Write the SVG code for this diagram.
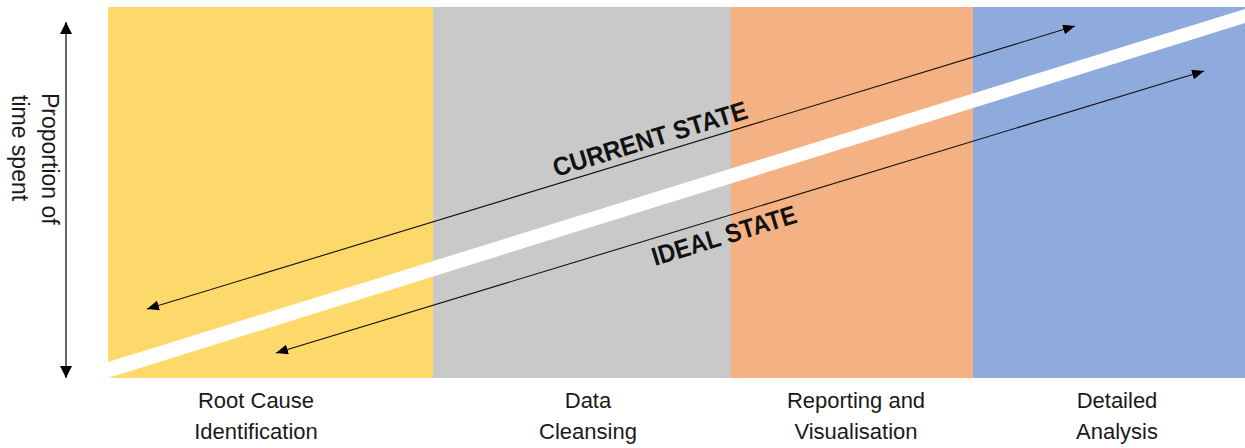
<svg xmlns="http://www.w3.org/2000/svg" width="1245" height="448" viewBox="0 0 1245 448">
<style>
.lbl{font-family:"Liberation Sans",Arial,sans-serif;font-size:22px;fill:#1a1a1a;text-anchor:middle}
.state{font-family:"Liberation Sans",Arial,sans-serif;font-size:26px;font-weight:bold;fill:#111}
.ax{font-family:"Liberation Sans",Arial,sans-serif;font-size:23px;fill:#1a1a1a}
.conn{stroke:#111;stroke-width:1.1;fill:none}
</style>
<defs>
<marker id="ah" viewBox="0 0 12 10" refX="12" refY="5" markerWidth="12" markerHeight="10" markerUnits="userSpaceOnUse" orient="auto-start-reverse">
<path d="M0,0 L12,5 L0,10 z" fill="#000"/>
</marker>
<marker id="ahv" viewBox="0 0 12 12" refX="12" refY="6" markerWidth="12" markerHeight="12" markerUnits="userSpaceOnUse" orient="auto-start-reverse">
<path d="M0,0 L12,6 L0,12 z" fill="#000"/>
</marker>
</defs>
<g id="bands">
<rect x="108" y="7" width="325" height="371" fill="#FDD86A"/>
<rect x="433" y="7" width="298" height="371" fill="#C9C9C9"/>
<rect x="731" y="7" width="242" height="371" fill="#F4B183"/>
<rect x="973" y="7" width="272" height="371" fill="#8FAADC"/>
<polygon points="108,362 1245,9 1245,23 108,378" fill="#fff"/>
</g>
<g id="connectors">
<line class="conn" x1="147" y1="309" x2="1075" y2="26" marker-start="url(#ah)" marker-end="url(#ah)"/>
<line class="conn" x1="276" y1="353" x2="1204" y2="71" marker-start="url(#ah)" marker-end="url(#ah)"/>
<line x1="66" y1="22" x2="66" y2="378" stroke="#404040" stroke-width="1.6" marker-start="url(#ahv)" marker-end="url(#ahv)"/>
</g>
<g id="current-state">
<text class="state" transform="translate(556,177) rotate(-17)" textLength="202" lengthAdjust="spacingAndGlyphs">CURRENT STATE</text>
</g>
<g id="ideal-state">
<text class="state" transform="translate(655,266) rotate(-17)" textLength="150" lengthAdjust="spacingAndGlyphs">IDEAL STATE</text>
</g>
<g id="y-axis-label">
<text class="ax" transform="translate(42,93) rotate(90)">Proportion of</text>
<text class="ax" transform="translate(12,95) rotate(90)">time spent</text>
</g>
<g id="label-root">
<text class="lbl" x="256" y="408">Root Cause</text>
<text class="lbl" x="256" y="439">Identification</text>
</g>
<g id="label-data">
<text class="lbl" x="588" y="408">Data</text>
<text class="lbl" x="588" y="439">Cleansing</text>
</g>
<g id="label-reporting">
<text class="lbl" x="856" y="408">Reporting and</text>
<text class="lbl" x="856" y="439">Visualisation</text>
</g>
<g id="label-detailed">
<text class="lbl" x="1117" y="408">Detailed</text>
<text class="lbl" x="1117" y="439">Analysis</text>
</g>
</svg>
